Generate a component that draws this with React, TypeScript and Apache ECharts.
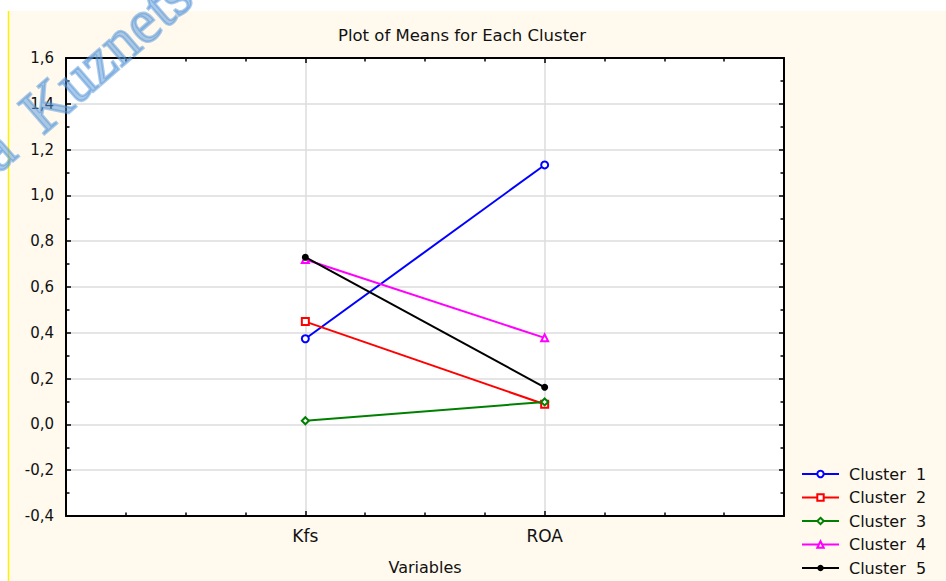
import React, { useEffect, useRef } from "react";
import * as echarts from "echarts";

const categories = ["Kfs", "ROA"];
const clusterNames = ["Cluster  1", "Cluster  2", "Cluster  3", "Cluster  4", "Cluster  5"];
const cluster1 = [0.374, 1.133];
const cluster2 = [0.449, 0.088];
const cluster3 = [0.016, 0.098];
const cluster4 = [0.72, 0.378];
const cluster5 = [0.73, 0.162];
const yTicks = { min: -0.4, max: 1.6, interval: 0.2 };

const colors = ["#0000FF", "#FF0000", "#008000", "#FF00FF", "#000000"];
const symbols = ["emptyCircle", "emptyRect", "emptyDiamond", "emptyTriangle", "circle"];
const FONT = "DejaVu Sans";

export default function App() {
  const ref = useRef<HTMLDivElement>(null);
  useEffect(() => {
    if (!ref.current) return;
    const chart = echarts.init(ref.current, undefined, { renderer: "svg" });
    const all = [cluster1, cluster2, cluster3, cluster4, cluster5];
    const series = all.map((vals, i) => ({
      name: clusterNames[i],
      type: "line",
      xAxisIndex: 0,
      yAxisIndex: 0,
      data: vals.map((v, j) => [j + 1, v]),
      symbol: symbols[i],
      symbolSize: 7,
      showSymbol: true,
      lineStyle: { color: colors[i], width: 2 },
      itemStyle: { color: colors[i], borderWidth: 1.5 },
      z: 3,
    }));
    const catFormatter = (v: number) => {
      const idx = Math.round(v) - 1;
      return Math.abs(v - Math.round(v)) < 1e-6 && idx >= 0 && idx < categories.length ? categories[idx] : "";
    };
    const axisLine = { show: true, onZero: false, lineStyle: { color: "#000", width: 2 } };
    const tick = { show: true, inside: true, length: 5, lineStyle: { color: "#000", width: 1.5 } };
    const minorTick = (n: number) => ({ show: true, splitNumber: n, length: 3.5, lineStyle: { color: "#000", width: 1.5 } });
    chart.setOption({
      animation: false,
      backgroundColor: "#FFF9EE",
      grid: { left: 66, top: 58, right: 162, bottom: 65, show: true, backgroundColor: "#fff", borderWidth: 0 },
      legend: {
        orient: "vertical",
        left: 801,
        top: 466,
        padding: 0,
        itemWidth: 37,
        itemHeight: 8,
        itemGap: 7.5,
        data: clusterNames,
        textStyle: { fontFamily: FONT, fontSize: 16, color: "#111", padding: [0, 0, 0, 5] },
      },
      xAxis: [
        {
          type: "value",
          position: "bottom",
          min: 0,
          max: 3,
          interval: 1,
          name: "Variables",
          nameLocation: "middle",
          nameGap: 43,
          nameTextStyle: { fontFamily: FONT, fontSize: 16, color: "#111" },
          axisLine,
          axisTick: tick,
          minorTick: minorTick(4),
          splitLine: { show: true, lineStyle: { color: "#dcdcdc", width: 1.5 } },
          axisLabel: { formatter: catFormatter, fontFamily: FONT, fontSize: 17, color: "#111", margin: 11 },
        },
        {
          type: "value",
          position: "top",
          min: 0,
          max: 3,
          interval: 1,
          axisLine,
          axisTick: tick,
          minorTick: minorTick(4),
          splitLine: { show: false },
          axisLabel: { show: false },
        },
      ],
      yAxis: [
        {
          type: "value",
          position: "left",
          min: yTicks.min,
          max: yTicks.max,
          interval: yTicks.interval,
          axisLine,
          axisTick: tick,
          minorTick: minorTick(2),
          splitLine: { show: true, lineStyle: { color: "#dcdcdc", width: 1.5 } },
          axisLabel: {
            formatter: (v: number) => v.toFixed(1).replace(".", ","),
            fontFamily: FONT,
            fontSize: 15,
            color: "#111",
            margin: 12,
          },
        },
        {
          type: "value",
          position: "right",
          min: yTicks.min,
          max: yTicks.max,
          interval: yTicks.interval,
          axisLine,
          axisTick: tick,
          minorTick: minorTick(2),
          splitLine: { show: false },
          axisLabel: { show: false },
        },
      ],
      graphic: [
        { type: "rect", shape: { x: 0, y: 0, width: 946, height: 11 }, style: { fill: "#fff" }, z: -10, silent: true },
        { type: "rect", shape: { x: 0, y: 0, width: 8, height: 581 }, style: { fill: "#fff" }, z: -10, silent: true },
        { type: "line", shape: { x1: 8.5, y1: 11, x2: 8.5, y2: 581 }, style: { stroke: "#FFF000", lineWidth: 1.5 }, z: -9, silent: true },
        {
          type: "text",
          x: 462,
          y: 35,
          z: 10,
          silent: true,
          style: {
            text: "Plot of Means for Each Cluster",
            fontFamily: FONT,
            fontSize: 16.5,
            fill: "#111",
            align: "center",
            verticalAlign: "middle",
          },
        },
        {
          type: "text",
          x: -15,
          y: 158,
          rotation: 0.716,
          z: 100,
          silent: true,
          style: {
            text: "a  Kuznetsova",
            fontFamily: "Liberation Serif",
            fontSize: 62,
            fill: "rgba(85,150,215,0.5)",
            stroke: "rgba(85,150,215,0.5)",
            lineWidth: 2.5,
            align: "left",
            verticalAlign: "middle",
          },
        },
      ],
      series,
    });
    return () => chart.dispose();
  }, []);
  return <div ref={ref} style={{ position: "fixed", left: 0, top: 0, width: 946, height: 581 }} />;
}
